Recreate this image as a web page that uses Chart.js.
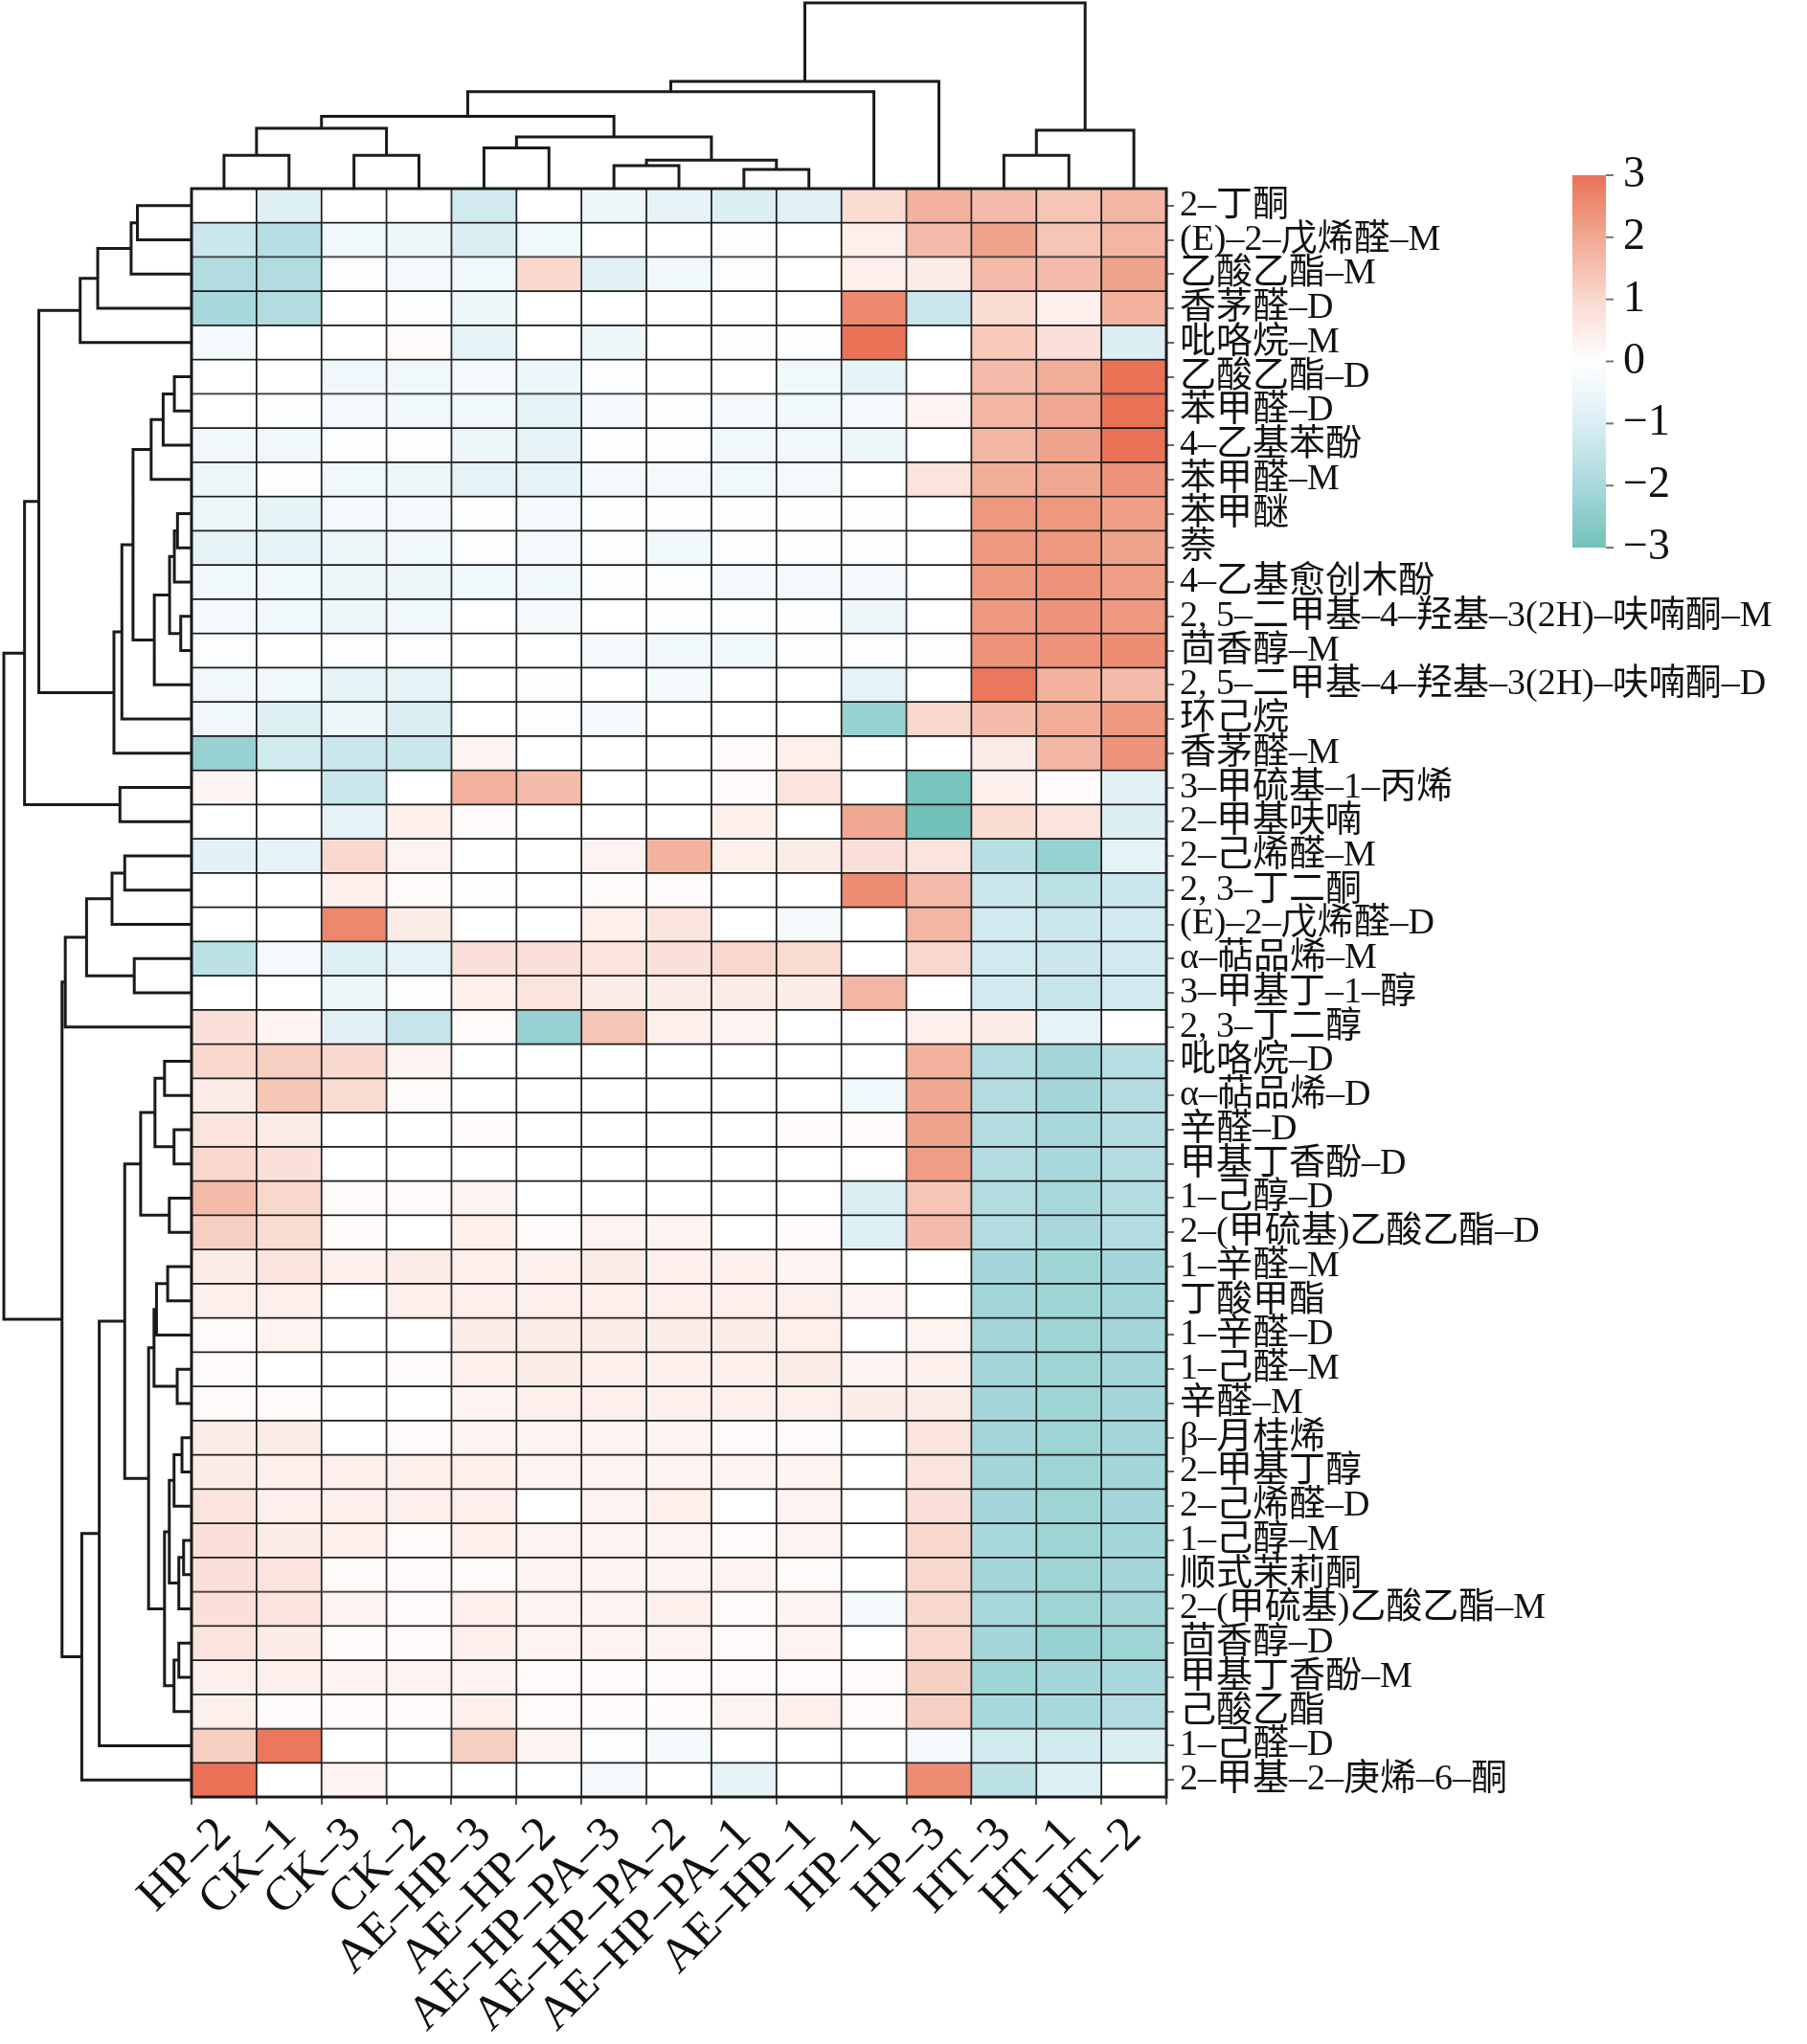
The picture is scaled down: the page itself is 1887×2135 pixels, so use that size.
<!DOCTYPE html>
<html>
<head>
<meta charset="utf-8">
<script src="https://cdn.jsdelivr.net/npm/chart.js@4.4.1/dist/chart.umd.min.js"></script>
<style>
html,body{margin:0;padding:0;background:#fff}
#wrap{width:1887px;height:2135px;position:relative}
</style>
</head>
<body>
<div id="wrap"><canvas id="heat"></canvas></div>
<script>
// samples (columns, in dendrogram order)
const columns = ['HP–2','CK–1','CK–3','CK–2','AE–HP–3','AE–HP–2','AE–HP–PA–3','AE–HP–PA–2','AE–HP–PA–1','AE–HP–1','HP–1','HP–3','HT–3','HT–1','HT–2'];

// compounds (rows, top to bottom)
const compounds = ['2–丁酮','(E)–2–戊烯醛–M','乙酸乙酯–M','香茅醛–D','吡咯烷–M','乙酸乙酯–D','苯甲醛–D','4–乙基苯酚','苯甲醛–M','苯甲醚','萘','4–乙基愈创木酚',
  '2, 5–二甲基–4–羟基–3(2H)–呋喃酮–M','茴香醇–M','2, 5–二甲基–4–羟基–3(2H)–呋喃酮–D','环己烷','香茅醛–M','3–甲硫基–1–丙烯','2–甲基呋喃','2–己烯醛–M','2, 3–丁二酮',
  '(E)–2–戊烯醛–D','α–萜品烯–M','3–甲基丁–1–醇','2, 3–丁二醇','吡咯烷–D','α–萜品烯–D','辛醛–D','甲基丁香酚–D','1–己醇–D','2–(甲硫基)乙酸乙酯–D','1–辛醛–M',
  '丁酸甲酯','1–辛醛–D','1–己醛–M','辛醛–M','β–月桂烯','2–甲基丁醇','2–己烯醛–D','1–己醇–M','顺式茉莉酮','2–(甲硫基)乙酸乙酯–M','茴香醇–D','甲基丁香酚–M',
  '己酸乙酯','1–己醛–D','2–甲基–2–庚烯–6–酮'];

// z-scores, one row per compound, one value per column
const zScores = [
  [0,-0.9,0,0,-1.2,0,-0.5,-0.7,-1.0,-0.8,0.9,1.8,1.6,1.4,1.7],
  [-1.3,-1.7,-0.4,-0.5,-1.0,-0.4,0,0,-0.1,0,0.4,1.6,2.1,1.4,1.7],
  [-1.8,-1.8,-0.1,-0.3,-0.4,1.0,-0.8,-0.4,-0.1,0,0.4,0.5,1.6,1.6,2.1],
  [-2.0,-1.8,0,-0.1,-0.5,0,0,0,0,0,2.6,-1.3,0.9,0.4,1.8],
  [-0.3,0,0,0.1,-0.7,0,-0.5,0,-0.1,-0.1,3.0,0,1.3,0.8,-1.0],
  [0,0,-0.4,-0.4,-0.3,-0.5,-0.1,0,0,-0.4,-0.7,0,1.6,1.9,3.0],
  [0,-0.1,-0.3,-0.4,-0.4,-0.7,-0.3,-0.1,-0.3,-0.4,-0.3,0.3,1.7,2.0,3.0],
  [-0.4,-0.4,-0.1,-0.1,-0.5,-0.7,-0.1,-0.1,-0.4,-0.4,-0.5,0,1.7,2.1,3.0],
  [-0.5,-0.1,-0.4,-0.5,-0.7,-0.7,-0.3,-0.3,-0.4,-0.3,0,0.7,1.9,2.0,2.4],
  [-0.5,-0.7,-0.3,-0.3,-0.1,-0.3,-0.1,-0.1,-0.1,-0.1,-0.1,0,2.3,2.3,2.2],
  [-0.7,-0.7,-0.5,-0.4,-0.1,-0.3,-0.1,-0.4,-0.1,-0.1,-0.1,0,2.3,2.3,2.1],
  [-0.4,-0.4,-0.5,-0.5,-0.4,-0.4,-0.1,-0.1,-0.3,-0.3,-0.3,0,2.3,2.4,2.2],
  [-0.3,-0.4,-0.5,-0.4,0,-0.3,0,-0.1,-0.1,-0.1,-0.5,0,2.3,2.4,2.3],
  [-0.1,0,-0.1,-0.1,0,0,-0.3,-0.4,-0.4,-0.1,-0.1,-0.1,2.4,2.4,2.5],
  [-0.4,-0.4,-0.7,-0.7,0,-0.1,0,-0.3,0,0,-0.7,0,2.9,1.8,1.6],
  [-0.4,-0.9,-0.5,-1.0,0,-0.1,-0.3,0,0,0,-2.3,1.0,1.6,1.9,2.3],
  [-2.3,-1.2,-1.3,-1.3,0.3,0,0,0,0.1,0.4,0,0,0.5,1.7,2.4],
  [0.3,0,-1.3,0,1.8,1.6,0,0,0.1,0.7,0,-2.9,0.4,0.1,-0.8],
  [0,0,-0.7,0.4,0.1,0,0,0,0.4,0,2.0,-3.0,0.9,0.7,-1.0],
  [-0.8,-0.7,1.0,0.3,0,0,0.3,1.8,0.4,0.5,0.8,0.7,-1.7,-2.3,-0.7],
  [0,0,0.4,0.1,-0.1,0,0.1,0.1,0,0,2.5,1.6,-1.3,-1.6,-1.3],
  [0,0,2.6,0.5,0,0,0.4,0.7,0,-0.3,0,1.7,-1.2,-1.3,-1.2],
  [-1.6,-0.3,-0.9,-0.7,0.8,0.8,0.7,0.8,1.0,0.9,0,1.0,-1.2,-1.3,-1.2],
  [0,0,-0.5,-0.1,0.4,0.7,0.5,0.5,0.5,0.5,1.7,0,-1.2,-1.4,-1.2],
  [0.8,0.3,-0.8,-1.4,0.1,-2.3,1.4,0.4,0.3,0,0,0.4,0.5,-0.7,0],
  [1.0,1.2,1.0,0.3,0,0,0,0,0,0,0,1.8,-1.8,-2.1,-1.7],
  [0.5,1.4,0.9,0.1,0,0,0,0,0,0,-0.4,2.0,-1.8,-2.1,-1.8],
  [0.7,0.5,0,0,0.1,0,0,0,0,0.1,0.1,2.1,-1.8,-2.0,-1.8],
  [1.0,0.8,0,0,0,0,0,0,0,0,0,2.2,-1.8,-2.0,-1.8],
  [1.6,1.0,0.1,0.1,0.3,0,0,0,0,0,-1.0,1.4,-1.8,-2.0,-1.8],
  [1.2,0.9,0.1,0,0.4,0.1,0.3,0.3,0,0.1,-0.9,1.6,-1.8,-2.0,-1.8],
  [0.5,0.7,0.4,0.5,0.4,0.4,0.5,0.4,0.4,0.3,0,0,-2.1,-2.2,-2.1],
  [0.4,0.4,0,0.4,0.4,0.4,0.4,0.4,0.4,0.4,0.3,0,-2.1,-2.2,-2.1],
  [0.1,0.3,0,0,0.5,0.5,0.5,0.5,0.5,0.4,0,0.3,-2.1,-2.2,-2.1],
  [0.1,0,0,0.1,0.4,0.5,0.4,0.4,0.4,0.5,0.3,0.4,-2.1,-2.2,-2.1],
  [0.1,0.1,0,0,0.3,0.4,0.4,0.4,0.4,0.4,0.5,0.5,-2.1,-2.2,-2.1],
  [0.5,0.5,0,0.1,0.3,0.3,0.3,0.3,0.1,0.1,0,0.7,-2.1,-2.2,-2.1],
  [0.5,0.4,0.4,0.4,0.4,0.3,0.3,0.3,0.3,0.3,0,0.7,-2.1,-2.2,-2.1],
  [0.7,0.4,0.4,0.4,0.4,0,0.3,0.4,0,0.3,0,0.8,-2.1,-2.2,-2.1],
  [0.8,0.5,0.4,0.1,0.4,0.3,0.3,0.3,0.1,0.3,0,1.0,-2.0,-2.2,-2.1],
  [0.8,0.7,0.1,0.1,0.1,0.3,0.3,0.3,0.3,0.1,0,1.0,-2.1,-2.2,-2.1],
  [0.8,0.7,0.3,0.1,0.4,0.3,0.3,0.4,0.1,0.3,-0.3,1.0,-2.0,-2.2,-2.1],
  [0.7,0.5,0.1,0.1,0.4,0.3,0.3,0.3,0.1,0.3,0,1.0,-2.1,-2.3,-2.2],
  [0.4,0.4,0.3,0.3,0.3,0.1,0.1,0.1,0.1,0.1,0.1,1.2,-2.2,-2.1,-2.0],
  [0.4,0.1,0.1,0.1,0.4,0.1,0.1,0.1,0.3,0.4,0.1,1.2,-2.0,-2.0,-1.8],
  [1.2,2.9,0,0,1.2,0.3,-0.1,-0.3,0,0,0,-0.3,-1.2,-1.2,-1.0],
  [3.0,0,0.3,0,0,0,-0.3,0,-0.7,0,0,2.5,-1.6,-0.9,0]
];

// hierarchical clustering: [child a, child b, distance]; leaves are 0..n-1, merges n, n+1, ...
const colLinkage = [
  [0,1,35],[2,3,35],[15,16,63.3],[4,5,42.7],[6,7,24],[8,9,20],[19,20,30],[18,21,54.3],
  [17,22,76],[23,10,101.7],[24,11,112.7],[12,13,35],[26,14,61.3],[25,27,195]
];
const rowLinkage = [
  [0,1,56.7],[47,2,63.3],[48,3,98.3],[49,4,116.7],
  [5,6,18],[51,7,29.7],[52,8,42.3],[9,10,14.7],[54,11,18],[12,13,11.3],[55,56,23],[57,14,39],
  [53,58,61.3],[59,15,73],[60,16,81.3],[50,61,160],[17,18,75],[62,63,175],
  [19,20,70],[65,21,83.3],[22,23,60],[66,67,110],[68,24,132.3],
  [25,26,28.3],[27,28,18.3],[70,71,38.3],[29,30,23.3],[72,73,53.3],
  [31,32,25],[75,33,36.7],[34,35,15],[76,77,39.3],
  [36,37,10],[79,38,18.3],[39,40,8.3],[81,41,13.3],[80,82,23.3],
  [42,43,13.3],[84,44,18.3],[83,85,28.3],[78,86,45],[74,87,70],
  [88,45,96.7],[89,46,115],[69,90,135.7],[64,91,196.7]
];

const colorbarTicks = [3,2,1,0,-1,-2,-3];

// diverging palette: teal - white - salmon
const palette = [
  [-3,[114,194,186]],[-2,[168,216,219]],[-1,[218,238,244]],[0,[255,255,255]],
  [1,[249,216,206]],[2,[241,168,146]],[3,[234,114,86]]
];
function zColor(v){
  v = Math.max(-3, Math.min(3, v));
  for (let i = 0; i < palette.length - 1; i++) {
    const [a, ca] = palette[i], [b, cb] = palette[i+1];
    if (v <= b) {
      const t = (v - a) / (b - a);
      const c = ca.map((x, k) => Math.round(x + (cb[k] - x) * t));
      return 'rgb(' + c.join(',') + ')';
    }
  }
  return 'rgb(' + palette[palette.length-1][1].join(',') + ')';
}

const FONT = '"Liberation Serif", "Noto Sans CJK SC", serif';

function drawTree(ctx, links, nLeaf, leafPix, base, unit, horizontalLeaves){
  const pos = [], hgt = [];
  for (let i = 0; i < nLeaf; i++) { pos[i] = leafPix(i); hgt[i] = 0; }
  ctx.beginPath();
  links.forEach(([a, b, h], k) => {
    const id = nLeaf + k;
    pos[id] = (pos[a] + pos[b]) / 2;
    hgt[id] = h;
    const pa = base - hgt[a] * unit, pb = base - hgt[b] * unit, ph = base - h * unit;
    if (horizontalLeaves) {
      ctx.moveTo(pos[a], pa); ctx.lineTo(pos[a], ph); ctx.lineTo(pos[b], ph); ctx.lineTo(pos[b], pb);
    } else {
      ctx.moveTo(pa, pos[a]); ctx.lineTo(ph, pos[a]); ctx.lineTo(ph, pos[b]); ctx.lineTo(pb, pos[b]);
    }
  });
  ctx.stroke();
}

const decorations = {
  id: 'decorations',
  afterDraw(chart){
    const ctx = chart.ctx, area = chart.chartArea;
    const xs = chart.scales.x, ys = chart.scales.y;
    ctx.save();
    // frame of the heatmap
    ctx.strokeStyle = '#1a1a1a';
    ctx.lineWidth = 3;
    ctx.strokeRect(area.left, area.top, area.right - area.left, area.bottom - area.top);
    // dendrograms
    ctx.lineWidth = 3;
    ctx.strokeStyle = '#1a1a1a';
    const colMax = colLinkage[colLinkage.length-1][2];
    drawTree(ctx, colLinkage, columns.length, i => xs.getPixelForValue(i), area.top, (area.top - 3) / colMax, true);
    const rowMax = rowLinkage[rowLinkage.length-1][2];
    drawTree(ctx, rowLinkage, compounds.length, i => ys.getPixelForValue(i + 0.5), area.left, (area.left - 4) / rowMax, false);
    // colour bar
    const cbL = 1642, cbW = 35, cbT = 183, cbB = 572;
    const g = ctx.createLinearGradient(0, cbT, 0, cbB);
    palette.forEach(([v, c]) => g.addColorStop((3 - v) / 6, 'rgb(' + c.join(',') + ')'));
    ctx.fillStyle = g;
    ctx.fillRect(cbL, cbT, cbW, cbB - cbT);
    ctx.font = '46px ' + FONT;
    ctx.textBaseline = 'middle';
    ctx.textAlign = 'left';
    colorbarTicks.forEach(v => {
      const y = cbT + (3 - v) / 6 * (cbB - cbT);
      ctx.strokeStyle = '#777';
      ctx.lineWidth = 2;
      ctx.beginPath(); ctx.moveTo(cbL + cbW, y); ctx.lineTo(cbL + cbW + 8, y); ctx.stroke();
      ctx.fillStyle = '#111';
      ctx.fillText(v < 0 ? '\u2212' + Math.abs(v) : String(v), cbL + cbW + 18, y);
    });
    ctx.restore();
  }
};

const datasets = compounds.map((name, r) => ({
  label: name,
  data: columns.map(() => [r, r + 1]),
  backgroundColor: zScores[r].map(zColor),
  borderColor: '#1c1c1c',
  borderWidth: 1.2,
  borderSkipped: false,
  grouped: false,
  barPercentage: 1,
  categoryPercentage: 1
}));

new Chart(document.getElementById('heat'), {
  type: 'bar',
  data: { labels: columns, datasets: datasets },
  plugins: [decorations],
  options: {
    responsive: true,
    maintainAspectRatio: false,
    animation: false,
    devicePixelRatio: 1,
    layout: { padding: { left: 200, top: 197, right: 0, bottom: 0 } },
    plugins: { legend: { display: false }, tooltip: { enabled: false } },
    scales: {
      x: {
        type: 'category',
        position: 'bottom',
        grid: { drawOnChartArea: false, drawTicks: true, tickLength: 8, color: '#555', lineWidth: 2 },
        border: { display: false },
        ticks: { autoSkip: false, minRotation: 45, maxRotation: 45, color: '#111', padding: 2,
                 font: { family: FONT, size: 50 } },
        afterFit(s) { s.height = 258; }
      },
      y: { type: 'linear', min: 0, max: compounds.length, reverse: true, display: false },
      y2: {
        type: 'category',
        axis: 'y',
        position: 'right',
        labels: compounds,
        offset: true,
        grid: { drawOnChartArea: false, drawTicks: true, tickLength: 8, color: '#666', lineWidth: 2 },
        border: { display: false },
        ticks: { autoSkip: false, color: '#111', padding: 6, font: { family: FONT, size: 38 } },
        afterFit(s) { s.width = 669; }
      }
    }
  }
});
</script>
</body>
</html>
